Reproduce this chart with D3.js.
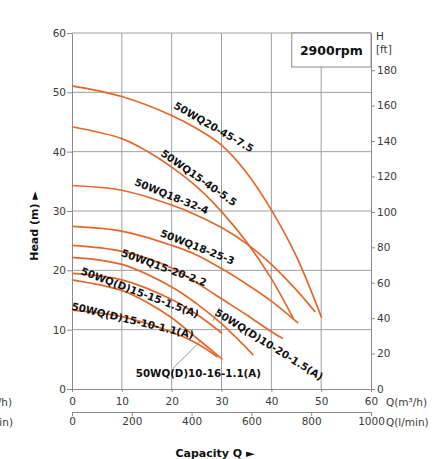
<!DOCTYPE html>
<html>
<head>
<meta charset="utf-8">
<script src="https://cdn.jsdelivr.net/npm/d3@7"></script>
<style>
  body { margin: 0; background: #fff; }
  svg text { font-family: "DejaVu Sans", sans-serif; }
</style>
</head>
<body>
<div id="chart"></div>
<script>
// axis ticks
const qTicks = [0, 10, 20, 30, 40, 50, 60];
const lpmTicks = [0, 200, 400, 600, 800, 1000];
const headTicks = [0, 10, 20, 30, 40, 50, 60];
const ftTicks = [0, 20, 40, 60, 80, 100, 120, 140, 160, 180];

// pump curves, [Q m3/h, H m]
const wq20_45 = [[0, 51.1], [10, 49.3], [20, 46.1], [25, 43.9], [30, 41.1], [35, 36.5], [40, 30.2], [45, 22.4], [50.1, 12.0]];
const wq15_40 = [[0, 44.2], [10, 42.2], [15, 40.1], [20, 37.4], [25, 34.1], [30, 29.9], [35, 24.8], [40, 18.6], [44.4, 11.9]];
const wq18_32 = [[0, 34.3], [10, 33.5], [20, 31.0], [25, 29.3], [30, 27.2], [35, 24.5], [40, 21.0], [45, 16.7], [48.8, 13.0]];
const wq18_25 = [[0, 27.4], [10, 26.6], [20, 24.2], [25, 22.6], [30, 20.3], [35, 17.7], [40, 14.8], [45.4, 11.1]];
const wq15_20 = [[0, 24.2], [10, 23.2], [20, 20.4], [26.7, 17.0], [30, 15.2], [35, 12.5], [39.4, 10.0], [42.3, 8.5]];
const wqd10_20 = [[0, 22.2], [10, 21.0], [20, 17.2], [25, 14.4], [30, 11.0], [36.4, 5.7]];
const wqd15_15 = [[0, 19.5], [10, 18.4], [20, 15.1], [25, 12.6], [30.1, 9.4]];
const wqd10_16 = [[0, 18.4], [10, 16.6], [15.7, 14.3], [20, 12.0], [25, 8.6], [30.2, 5.0]];
const wqd15_10 = [[0, 13.3], [10, 12.2], [20, 9.6], [25, 7.7], [29.2, 5.4]];

const curves = [wq20_45, wq15_40, wq18_32, wq18_25, wq15_20, wqd10_20, wqd15_15, wqd10_16, wqd15_10];

// curve labels
const labelText = ["50WQ20-45-7.5", "50WQ15-40-5.5", "50WQ18-32-4", "50WQ18-25-3", "50WQ15-20-2.2",
  "50WQ(D)15-15-1.5(A)", "50WQ(D)15-10-1.1(A)", "50WQ(D)10-20-1.5(A)", "50WQ(D)10-16-1.1(A)"];
// label centre (Q, H) and rotation in degrees
const labelLayout = [[28.5, 44.2, 30], [25.5, 35.65, 35], [20.0, 32.55, 22], [25.2, 24.0, 21.5], [18.5, 20.5, 20],
  [13.65, 16.3, 20.5], [12.2, 11.6, 13.5], [39.6, 7.55, 32], [25.35, 2.65, 0]];
const leaders = [[[29.6, 13.7], [28.3, 11.5]], [[20.3, 3.5], [25.7, 8.0]]];

const width = 447, height = 459;
const plotLeft = 72, plotRight = 371, plotTop = 33, plotBottom = 389;

const svg = d3.select("#chart").append("svg")
  .attr("width", width)
  .attr("height", height);

const x = d3.scaleLinear().domain([0, 60]).range([plotLeft, plotRight]);
const xl = d3.scaleLinear().domain([0, 1000]).range([plotLeft, plotRight]);
const y = d3.scaleLinear().domain([0, 60]).range([plotBottom, plotTop]);
const yft = d3.scaleLinear().domain([0, 201]).range([plotBottom, plotTop]);

// grid
const grid = svg.append("g").attr("stroke", "#9e9e9e").attr("stroke-width", 1);
grid.selectAll(".vg").data(qTicks.slice(1, -1)).enter().append("line")
  .attr("x1", d => x(d)).attr("x2", d => x(d))
  .attr("y1", plotTop).attr("y2", plotBottom);
grid.selectAll(".hg").data(headTicks.slice(1)).enter().append("line")
  .attr("x1", plotLeft).attr("x2", plotRight)
  .attr("y1", d => y(d)).attr("y2", d => y(d));

// axes
function styleAxis(g) {
  g.select(".domain").attr("stroke", "#8a8a8a");
  g.selectAll(".tick line").attr("stroke", "#8a8a8a");
  g.selectAll(".tick text").attr("fill", "#3a3a3a")
    .style("font-size", "10.5px").style("font-family", "DejaVu Sans");
}

svg.append("g")
  .attr("transform", `translate(${plotLeft},0)`)
  .call(d3.axisLeft(y).tickValues(headTicks).tickSize(5).tickPadding(1).tickSizeOuter(0))
  .call(styleAxis);

svg.append("g")
  .attr("transform", `translate(${plotRight},0)`)
  .call(d3.axisRight(yft).tickValues(ftTicks).tickSize(4).tickPadding(2).tickSizeOuter(0))
  .call(styleAxis);

svg.append("g")
  .attr("transform", `translate(0,${plotBottom})`)
  .call(d3.axisBottom(x).tickValues(qTicks).tickSize(3).tickPadding(6).tickSizeOuter(0))
  .call(styleAxis);

svg.append("g")
  .attr("transform", `translate(0,412)`)
  .call(d3.axisBottom(xl).tickValues(lpmTicks).tickFormat(d3.format("d"))
    .tickSize(4).tickPadding(2).tickSizeOuter(0))
  .call(styleAxis);

// axis unit labels (the left pair runs off the edge, as in the original)
const unitStyle = t => t.attr("fill", "#3a3a3a").style("font-size", "10.5px");
svg.append("text").attr("x", 386).attr("y", 405.5).text("Q(m³/h)").call(unitStyle);
svg.append("text").attr("x", 386).attr("y", 425.5).text("Q(l/min)").call(unitStyle);
svg.append("text").attr("x", 12).attr("y", 405.5).attr("text-anchor", "end").text("Q(m³/h)").call(unitStyle);
svg.append("text").attr("x", 13).attr("y", 425.5).attr("text-anchor", "end").text("Q(l/min)").call(unitStyle);
svg.append("text").attr("x", 376).attr("y", 40).text("H").call(unitStyle);
svg.append("text").attr("x", 376).attr("y", 52.5).text("[ft]").call(unitStyle);

// titles
svg.append("text")
  .attr("transform", "translate(38,226) rotate(-90)")
  .attr("text-anchor", "middle")
  .attr("font-weight", "bold")
  .style("font-size", "11px")
  .attr("fill", "#111")
  .text("Head (m) ►");

svg.append("text")
  .attr("x", 215).attr("y", 457)
  .attr("text-anchor", "middle")
  .attr("font-weight", "bold")
  .style("font-size", "11px")
  .attr("fill", "#111")
  .text("Capacity Q ►");

// speed box
svg.append("rect")
  .attr("x", x(44.1)).attr("y", plotTop)
  .attr("width", plotRight - x(44.1)).attr("height", 34)
  .attr("fill", "#fff").attr("stroke", "#8a8a8a");
svg.append("text")
  .attr("x", (x(44.1) + plotRight) / 2).attr("y", plotTop + 17)
  .attr("text-anchor", "middle").attr("dominant-baseline", "central")
  .attr("font-weight", "bold").style("font-size", "12.5px")
  .attr("fill", "#111")
  .text("2900rpm");

// curves
const line = d3.line()
  .x(d => x(d[0]))
  .y(d => y(d[1]))
  .curve(d3.curveCatmullRom.alpha(0.5));

svg.append("g").selectAll("path")
  .data(curves).enter().append("path")
  .attr("d", line)
  .attr("fill", "none")
  .attr("stroke", "#e2672b")
  .attr("stroke-width", 1.7);

// leader lines
svg.append("g").selectAll("line")
  .data(leaders).enter().append("line")
  .attr("x1", d => x(d[0][0])).attr("y1", d => y(d[0][1]))
  .attr("x2", d => x(d[1][0])).attr("y2", d => y(d[1][1]))
  .attr("stroke", "#777").attr("stroke-width", 0.8);

// labels
svg.append("g").selectAll("text")
  .data(labelText).enter().append("text")
  .attr("transform", (d, i) => `translate(${x(labelLayout[i][0])},${y(labelLayout[i][1])}) rotate(${labelLayout[i][2]})`)
  .attr("text-anchor", "middle")
  .attr("dominant-baseline", "central")
  .attr("font-weight", "bold")
  .style("font-size", "10.3px")
  .attr("fill", "#111")
  .text(d => d);
</script>
</body>
</html>
